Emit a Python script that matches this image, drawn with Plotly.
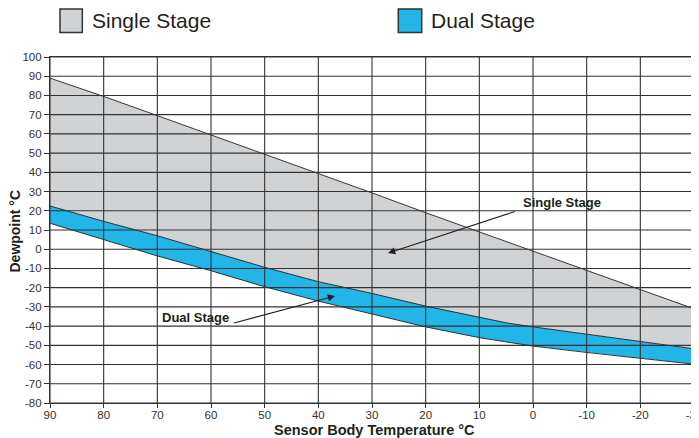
import plotly.graph_objects as go

# ---- data ----
temp = [90, 80, 70, 60, 50, 40, 30, 20, 10, 5, 0, -10, -20, -30]
single_upper = [89, 79.5, 69.5, 59.5, 49.5, 39.5, 29.3, 19, 9, 4, -0.7, -11, -21, -31]
dual_upper = [22.5, 14.5, 7, -1.3, -9.4, -16.9, -23, -29.6, -35.5, -38.3, -40.4, -44.3, -48.2, -51.8]
dual_lower = [13.5, 4.8, -3.5, -11.2, -19.5, -27, -33.8, -40.4, -46, -48.2, -50.4, -53.7, -56.7, -59.8]

x_ticks = [90, 80, 70, 60, 50, 40, 30, 20, 10, 0, -10, -20, -30]
y_ticks = [100, 90, 80, 70, 60, 50, 40, 30, 20, 10, 0, -10, -20, -30, -40, -50, -60, -70, -80]
x_labels = [str(v) for v in x_ticks]
y_labels = [str(v) for v in y_ticks]

series_names = ["Single Stage", "Dual Stage"]
GRAY = "#d1d2d4"
BLUE = "#22b5e8"
INK = "#231f20"
FONT = "Liberation Sans, Arial, sans-serif"

fig = go.Figure()

# Single stage band (between single upper and dual upper)
fig.add_trace(go.Scatter(
    x=temp + temp[::-1], y=single_upper + dual_upper[::-1],
    fill="toself", fillcolor=GRAY, mode="lines", line=dict(width=0),
    hoverinfo="skip", showlegend=False))
# Dual stage band
fig.add_trace(go.Scatter(
    x=temp + temp[::-1], y=dual_upper + dual_lower[::-1],
    fill="toself", fillcolor=BLUE, mode="lines", line=dict(width=0),
    hoverinfo="skip", showlegend=False))
for ys in (single_upper, dual_upper, dual_lower):
    fig.add_trace(go.Scatter(x=temp, y=ys, mode="lines",
                             line=dict(color=INK, width=0.9), showlegend=False))

shapes = []
grid_col = "#333333"
for xv in x_ticks:
    shapes.append(dict(type="line", xref="x", yref="y", x0=xv, x1=xv,
                       y0=y_ticks[-1], y1=y_ticks[0], layer="above",
                       line=dict(color=grid_col, width=1.1)))
for yv in y_ticks:
    shapes.append(dict(type="line", xref="x", yref="y", y0=yv, y1=yv,
                       x0=x_ticks[0], x1=x_ticks[-1], layer="above",
                       line=dict(color=grid_col, width=1.1)))

# legend boxes (paper coords)
shapes.append(dict(type="rect", xref="paper", yref="paper", x0=0.0155, x1=0.0502,
                   y0=1.071, y1=1.139, fillcolor=GRAY, line=dict(color="#333", width=1.5)))
shapes.append(dict(type="rect", xref="paper", yref="paper", x0=0.5408, x1=0.5772,
                   y0=1.071, y1=1.139, fillcolor=BLUE, line=dict(color="#333", width=1.5)))

annotations = [
    dict(xref="paper", yref="paper", x=0.0621, y=1.105, xanchor="left", yanchor="middle",
         text=series_names[0], showarrow=False, font=dict(family=FONT, size=21, color=INK)),
    dict(xref="paper", yref="paper", x=0.5885, y=1.105, xanchor="left", yanchor="middle",
         text=series_names[1], showarrow=False, font=dict(family=FONT, size=21, color=INK)),
    # axis titles
    dict(xref="paper", yref="paper", x=0.504, y=-0.078, xanchor="center", yanchor="middle",
         text="<b>Sensor Body Temperature °C</b>", showarrow=False,
         font=dict(family=FONT, size=14.5, color=INK)),
    dict(xref="paper", yref="paper", x=-0.0536, y=0.497, xanchor="center", yanchor="middle",
         text="<b>Dewpoint °C</b>", showarrow=False, textangle=-90,
         font=dict(family=FONT, size=14, color=INK)),
    # in-chart labels with arrows
    dict(xref="x", yref="y", x=-5.4, y=24.1, text="<b>Single Stage</b>", showarrow=False,
         font=dict(family=FONT, size=13, color=INK)),
    dict(xref="x", yref="y", x=27, y=-2, axref="x", ayref="y", ax=3.1, ay=19.9,
         text="", showarrow=True, arrowhead=2, arrowsize=1.3, arrowwidth=1.1, arrowcolor=INK),
    dict(xref="x", yref="y", x=62.9, y=-35.6, text="<b>Dual Stage</b>", showarrow=False,
         font=dict(family=FONT, size=13, color=INK)),
    dict(xref="x", yref="y", x=36.9, y=-24.3, axref="x", ayref="y", ax=56, ay=-38.6,
         text="", showarrow=True, arrowhead=2, arrowsize=1.3, arrowwidth=1.1, arrowcolor=INK),
]

fig.update_layout(
    width=691, height=430,
    margin=dict(l=42, r=5, t=49, b=35),
    paper_bgcolor="white", plot_bgcolor="white",
    showlegend=False,
    shapes=shapes, annotations=annotations,
    font=dict(family=FONT, color="#333"),
    xaxis=dict(range=[90, -30], tickvals=x_ticks, ticktext=x_labels,
               showgrid=False, zeroline=False, automargin=False,
               ticklabeloverflow="allow", ticklabelstandoff=-3,
               ticks="outside", ticklen=4, tickcolor=grid_col,
               tickfont=dict(size=11.5, color="#333"),
               showline=True, linecolor=grid_col, linewidth=1.1, mirror=True),
    yaxis=dict(range=[-80, 100], tickvals=y_ticks, ticktext=y_labels,
               showgrid=False, zeroline=False, automargin=False,
               ticklabeloverflow="allow",
               ticks="outside", ticklen=5, tickcolor=grid_col,
               tickfont=dict(size=11.5, color="#333"),
               showline=True, linecolor=grid_col, linewidth=1.1, mirror=True),
)

fig.write_html("out.html")
